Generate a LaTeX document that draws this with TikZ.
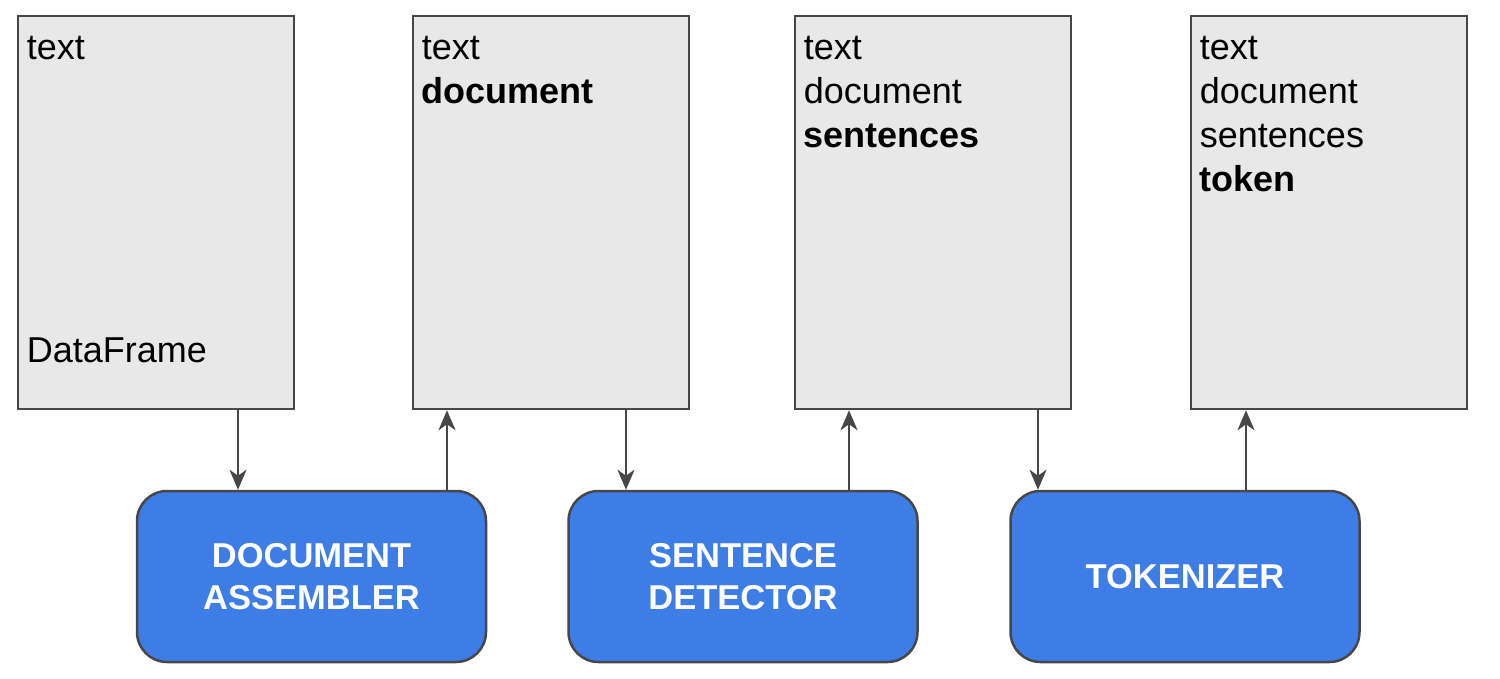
\documentclass[tikz,border=0pt]{standalone}
\usepackage{fontspec}
\setmainfont{Liberation Sans}
\usepackage{tikz}
\usetikzlibrary{arrows.meta}
\definecolor{cgray}{HTML}{E8E8E8}
\definecolor{cblue}{HTML}{3E7CE6}
\definecolor{cline}{HTML}{474747}

\begin{document}
\begin{tikzpicture}[x=1pt,y=-1pt,->,>={Stealth[length=20pt,width=17pt,inset=6pt]},
  line width=2.8pt,draw=cline,
  data node/.style={rectangle,fill=cgray,draw=cline,line width=2.5pt,
        minimum width=276pt,minimum height=393pt,inner sep=0pt},
  stage node/.style={rectangle,rounded corners=30pt,fill=cblue,draw=cline,line width=2.5pt,
        minimum width=349pt,minimum height=171pt,text=white,align=center,
        font=\bfseries\fontsize{34.5}{42}\selectfont},
  col text/.style={anchor=base west,inner sep=0pt,font=\fontsize{36}{44}\selectfont}]
  \useasboundingbox (0,0) rectangle (1500,679);

  % columns
  \node[data node] (1) at (156,212.5) {};
  \node[data node] (2) at (551,212.5) {};
  \node[data node] (3) at (933,212.5) {};
  \node[data node] (4) at (1329,212.5) {};

  % annotators
  \node[stage node] (a) at (311.5,576.5) {DOCUMENT\\ASSEMBLER};
  \node[stage node] (b) at (743,576.5) {SENTENCE\\DETECTOR};
  \node[stage node] (c) at (1185,576.5) {TOKENIZER};

  % column names
  \node[col text] (1t) at (25.5,60) {text};
  \node[col text] (1d) at (25.5,362) {DataFrame};
  \node[col text] (2t) at (420.5,60) {text};
  \node[col text] (2d) at (420.5,104) {\bfseries document};
  \node[col text] (3t) at (802.5,60) {text};
  \node[col text] (3d) at (802.5,104) {document};
  \node[col text] (3s) at (802.5,148) {\bfseries sentences};
  \node[col text] (4t) at (1198.5,60) {text};
  \node[col text] (4d) at (1198.5,104) {document};
  \node[col text] (4s) at (1198.5,148) {sentences};
  \node[col text] (4k) at (1198.5,192) {\bfseries token};

  \draw (1.south -| 238,0) -- (a.north -| 238,0);
  \draw (a.north -| 447,0) -- (2.south -| 447,0);
  \draw (2.south -| 626,0) -- (b.north -| 626,0);
  \draw (b.north -| 849,0) -- (3.south -| 849,0);
  \draw (3.south -| 1038,0) -- (c.north -| 1038,0);
  \draw (c.north -| 1246,0) -- (4.south -| 1246,0);
\end{tikzpicture}
\end{document}
